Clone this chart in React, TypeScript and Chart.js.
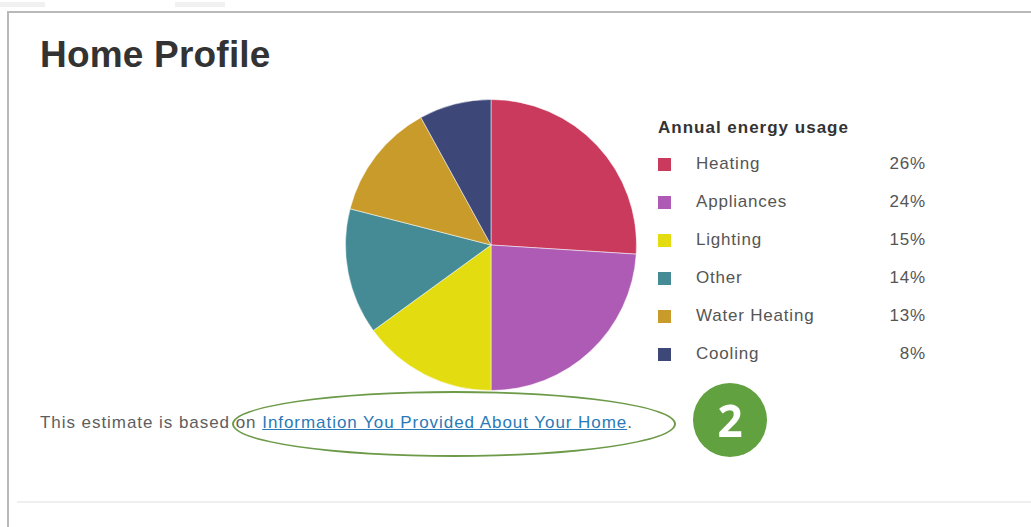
import React, { useEffect, useRef } from "react";
import { Chart, registerables } from "chart.js";

Chart.register(...registerables);

const categories = ["Heating", "Appliances", "Lighting", "Other", "Water Heating", "Cooling"];
const shares = [26, 24, 15, 14, 13, 8];
const colors = ["#c93a5c", "#ad5bb5", "#e2dc10", "#448b95", "#c99b2b", "#3e4878"];
const legendTitle = "Annual energy usage";
const pageTitle = "Home Profile";

const FONT = "'Liberation Sans', Arial, Helvetica, sans-serif";

export default function App() {
  const ref = useRef<HTMLCanvasElement | null>(null);

  useEffect(() => {
    if (!ref.current) return;
    const chart = new Chart(ref.current, {
      type: "pie",
      data: {
        labels: categories,
        datasets: [
          {
            data: shares,
            backgroundColor: colors,
            borderColor: "rgba(255,255,255,0.5)",
            borderWidth: 1,
          },
        ],
      },
      options: {
        animation: false,
        responsive: false,
        maintainAspectRatio: false,
        layout: { padding: 0 },
        plugins: { legend: { display: false }, tooltip: { enabled: false } },
      },
    });
    return () => chart.destroy();
  }, []);

  return (
    <div style={{ fontFamily: FONT }}>
      {/* panel borders */}
      <div style={{ position: "absolute", left: 7, top: 11, width: 1024, height: 2, background: "#b9b9b9" }} />
      <div style={{ position: "absolute", left: 7, top: 11, width: 2, height: 516, background: "#b9b9b9" }} />
      <div style={{ position: "absolute", left: 17, top: 501, width: 1014, height: 2, background: "#efefef" }} />
      <div style={{ position: "absolute", left: 0, top: 2, width: 45, height: 5, background: "#f1f1f1" }} />
      <div style={{ position: "absolute", left: 175, top: 2, width: 50, height: 5, background: "#f1f1f1" }} />

      <div
        style={{
          position: "absolute",
          left: 40,
          top: 35,
          fontSize: 37,
          letterSpacing: 0.2,
          fontWeight: "bold",
          color: "#333",
          lineHeight: "40px",
          whiteSpace: "nowrap",
        }}
      >
        {pageTitle}
      </div>

      <canvas
        ref={ref}
        width={292}
        height={292}
        style={{ position: "absolute", left: 345, top: 99, width: 292, height: 292 }}
      />

      <div
        style={{
          position: "absolute",
          left: 658,
          top: 118,
          fontSize: 17,
          letterSpacing: 1,
          fontWeight: "bold",
          color: "#333",
          lineHeight: "20px",
          whiteSpace: "nowrap",
        }}
      >
        {legendTitle}
      </div>
      {categories.map((c, i) => (
        <div key={c}>
          <div
            style={{
              position: "absolute",
              left: 658,
              top: 158 + i * 38,
              width: 13,
              height: 13,
              background: colors[i],
            }}
          />
          <div
            style={{
              position: "absolute",
              left: 696,
              top: 154 + i * 38,
              fontSize: 17,
              letterSpacing: 0.8,
              color: "#555",
              lineHeight: "20px",
              whiteSpace: "nowrap",
            }}
          >
            {c}
          </div>
          <div
            style={{
              position: "absolute",
              left: 826,
              width: 100,
              top: 154 + i * 38,
              fontSize: 17,
              letterSpacing: 0.8,
              color: "#555",
              lineHeight: "20px",
              textAlign: "right",
            }}
          >
            {shares[i]}%
          </div>
        </div>
      ))}

      <div
        style={{
          position: "absolute",
          left: 40,
          top: 413,
          fontSize: 17,
          letterSpacing: 0.95,
          color: "#5e5e5e",
          lineHeight: "20px",
          whiteSpace: "nowrap",
        }}
      >
        This estimate is based on{" "}
        <span style={{ color: "#2a7ab8", textDecoration: "underline" }}>
          Information You Provided About Your Home
        </span>
        .
      </div>

      <div
        style={{
          position: "absolute",
          left: 232,
          top: 391,
          width: 444,
          height: 66,
          borderRadius: "50%",
          border: "2px solid #6c9a48",
          boxSizing: "border-box",
        }}
      />

      <div
        style={{
          position: "absolute",
          left: 693,
          top: 383,
          width: 74,
          height: 74,
          borderRadius: "50%",
          background: "#62a140",
          color: "#fff",
          fontWeight: "bold",
          fontSize: 44,
          lineHeight: "74px",
          textAlign: "center",
          fontFamily: "'Open Sans', 'Liberation Sans', sans-serif",
        }}
      >
        2
      </div>
    </div>
  );
}
